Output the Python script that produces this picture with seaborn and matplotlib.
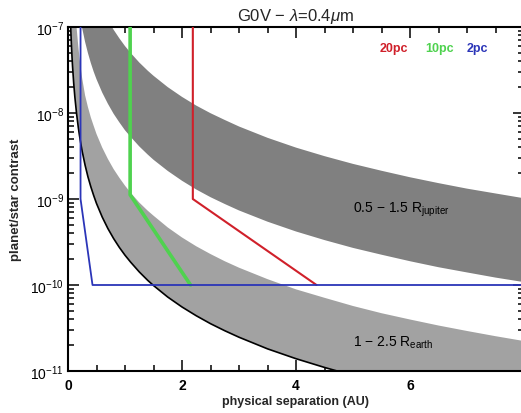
import numpy as np
import pandas as pd
import matplotlib
matplotlib.use("Agg")
import matplotlib.pyplot as plt
import seaborn as sns
from matplotlib.ticker import LogLocator, MultipleLocator, NullFormatter, FixedLocator, FixedFormatter

sns.set_style("ticks")
plt.rcParams['font.family'] = ['Liberation Sans', 'DejaVu Sans']
plt.rcParams['mathtext.fontset'] = 'custom'
plt.rcParams['mathtext.rm'] = 'Liberation Sans'
plt.rcParams['mathtext.it'] = 'Liberation Sans:italic'
plt.rcParams['mathtext.bf'] = 'Liberation Sans:bold'

# ---- data ----
separation = [0.04, 0.05, 0.06, 0.07, 0.08, 0.1, 0.12, 0.15, 0.18, 0.2, 0.22, 0.25, 0.3, 0.35,
              0.4, 0.45, 0.5, 0.6, 0.7, 0.8, 0.9, 1.0, 1.1, 1.25, 1.4, 1.5, 1.75, 2.0, 2.25,
              2.5, 2.75, 3.0, 3.5, 4.0, 4.5, 5.0, 5.5, 6.0, 6.5, 7.0, 7.5, 8.0]
jupiter_upper = [3.3e-5, 2.1e-5, 1.49e-5, 1.10e-5, 8.5e-6, 5.5e-6, 3.83e-6, 2.47e-6, 1.73e-6,
                 1.41e-6, 1.17e-6, 9.1e-7, 6.35e-7, 4.7e-7, 3.61e-7, 2.87e-7, 2.33e-7, 1.63e-7,
                 1.21e-7, 9.3e-8, 7.4e-8, 6.0e-8, 4.99e-8, 3.87e-8, 3.10e-8, 2.71e-8, 2.0e-8,
                 1.54e-8, 1.22e-8, 9.95e-9, 8.3e-9, 6.97e-9, 5.15e-9, 3.96e-9, 3.15e-9, 2.56e-9,
                 2.13e-9, 1.79e-9, 1.53e-9, 1.32e-9, 1.16e-9, 1.02e-9]
jupiter_lower = [3.5e-6, 2.25e-6, 1.57e-6, 1.16e-6, 8.95e-7, 5.78e-7, 4.05e-7, 2.61e-7, 1.83e-7,
                 1.49e-7, 1.24e-7, 9.6e-8, 6.7e-8, 4.97e-8, 3.82e-8, 3.03e-8, 2.47e-8, 1.73e-8,
                 1.28e-8, 9.8e-9, 7.8e-9, 6.3e-9, 5.27e-9, 4.09e-9, 3.28e-9, 2.86e-9, 2.12e-9,
                 1.63e-9, 1.29e-9, 1.05e-9, 8.75e-10, 7.36e-10, 5.45e-10, 4.19e-10, 3.33e-10,
                 2.70e-10, 2.25e-10, 1.89e-10, 1.61e-10, 1.40e-10, 1.22e-10, 1.08e-10]
earth_upper = [1.0e-5, 5.0e-6, 2.5e-6, 1.4e-6, 9.0e-7, 3.5e-7, 1.8e-7, 1.0e-7, 6.0e-8,
               4.5e-8, 3.5e-8, 2.5e-8, 1.6e-8, 1.17e-8, 8.9e-9, 7.1e-9, 5.7e-9, 3.97e-9,
               2.92e-9, 2.23e-9, 1.77e-9, 1.43e-9, 1.18e-9, 9.1e-10, 7.3e-10, 6.4e-10, 4.67e-10,
               3.57e-10, 2.82e-10, 2.29e-10, 1.89e-10, 1.59e-10, 1.17e-10, 8.9e-11, 7.1e-11,
               5.7e-11, 4.7e-11, 3.97e-11, 3.38e-11, 2.92e-11, 2.54e-11, 2.23e-11]
earth_lower = [1.39e-7, 8.87e-8, 6.17e-8, 4.53e-8, 3.47e-8, 2.22e-8, 1.54e-8, 9.86e-9, 6.85e-9,
               5.55e-9, 4.59e-9, 3.55e-9, 2.47e-9, 1.81e-9, 1.39e-9, 1.10e-9, 8.87e-10, 6.17e-10,
               4.53e-10, 3.47e-10, 2.74e-10, 2.22e-10, 1.84e-10, 1.42e-10, 1.13e-10, 9.86e-11,
               7.24e-11, 5.55e-11, 4.39e-11, 3.55e-11, 2.94e-11, 2.47e-11, 1.81e-11, 1.39e-11,
               1.10e-11, 8.87e-12, 7.34e-12, 6.17e-12, 5.25e-12, 4.53e-12, 3.94e-12, 3.47e-12]

limit_20pc_x = [2.19, 2.19, 4.36]
limit_20pc_y = [1.0e-7, 1.0e-9, 1.0e-10]
limit_10pc_x = [1.09, 1.09, 2.15]
limit_10pc_y = [1.0e-7, 1.12e-9, 1.0e-10]
limit_2pc_x = [0.22, 0.22, 0.43, 8.2]
limit_2pc_y = [1.0e-7, 1.0e-9, 1.0e-10, 1.0e-10]

x_ticks = [0, 2, 4, 6, 8]
y_ticks = [1e-11, 1e-10, 1e-9, 1e-8, 1e-7]
y_tick_labels = [r'$10^{-11}$', r'$10^{-10}$', r'$10^{-9}$', r'$10^{-8}$', r'$10^{-7}$']

# ---- figure ----
fig = plt.figure(figsize=(5.21, 4.14), dpi=100)
ax = fig.add_axes([68/521, 1 - 372/414, 456/521, 344/414])

ax.fill_between(separation, earth_lower, earth_upper, color='#a2a2a2', lw=0, zorder=1)
ax.fill_between(separation, jupiter_lower, jupiter_upper, color='#808080', lw=0, zorder=2)

edge = pd.DataFrame({'x': separation, 'y': earth_lower})
sns.lineplot(data=edge, x='x', y='y', ax=ax, color='black', lw=1.2,
             estimator=None, sort=False, zorder=3)

for xs, ys, col, lw in [(limit_20pc_x, limit_20pc_y, '#d0202a', 1.5),
                        (limit_10pc_x, limit_10pc_y, '#4fd24f', 2.6),
                        (limit_2pc_x, limit_2pc_y, '#2b35b8', 1.3)]:
    df = pd.DataFrame({'x': xs, 'y': ys})
    sns.lineplot(data=df, x='x', y='y', ax=ax, color=col, lw=lw,
                 estimator=None, sort=False, zorder=4)

ax.set_yscale('log')
ax.set_xlim(0, 8)
ax.set_ylim(1e-11, 1e-7)

ax.xaxis.set_major_locator(FixedLocator(x_ticks))
ax.xaxis.set_minor_locator(MultipleLocator(0.5))
ax.yaxis.set_major_locator(FixedLocator(y_ticks))
ax.yaxis.set_major_formatter(FixedFormatter(y_tick_labels))
ax.yaxis.set_minor_locator(LogLocator(base=10, subs=np.arange(2, 10)))
ax.yaxis.set_minor_formatter(NullFormatter())

ax.tick_params(which='both', direction='in', top=True, right=True, width=1.1, colors='black')
ax.tick_params(which='major', length=8)
ax.tick_params(which='minor', length=4)
ax.tick_params(axis='x', which='major', pad=5, labelsize=10)
ax.tick_params(axis='y', which='major', pad=3, labelsize=10)
for lab in ax.get_xticklabels() + ax.get_yticklabels():
    lab.set_fontweight('bold')
for s in ax.spines.values():
    s.set_linewidth(1.5)
    s.set_color('black')

ax.set_xlabel('physical separation (AU)', fontsize=9, fontweight='bold', labelpad=2)
ax.set_ylabel('planet/star contrast', fontsize=9.5, fontweight='bold', labelpad=6)
ax.set_title(r'G0V $-$ $\lambda$=0.4$\mu$m', fontsize=12, pad=5)

ax.text(5.47, 5.2e-8, '20pc', color='#d0202a', fontsize=9, fontweight='bold')
ax.text(6.26, 5.2e-8, '10pc', color='#4fd24f', fontsize=9, fontweight='bold')
ax.text(7.0, 5.2e-8, '2pc', color='#2b35b8', fontsize=9, fontweight='bold')

ax.text(5.0, 7.6e-10, r'0.5 $-$ 1.5 R$_{\rm jupiter}$', fontsize=10, color='black',
        va='center')
ax.text(5.0, 2.2e-11, r'1 $-$ 2.5 R$_{\rm earth}$', fontsize=10, color='black',
        va='center')

fig.savefig('out.png', dpi=100)
